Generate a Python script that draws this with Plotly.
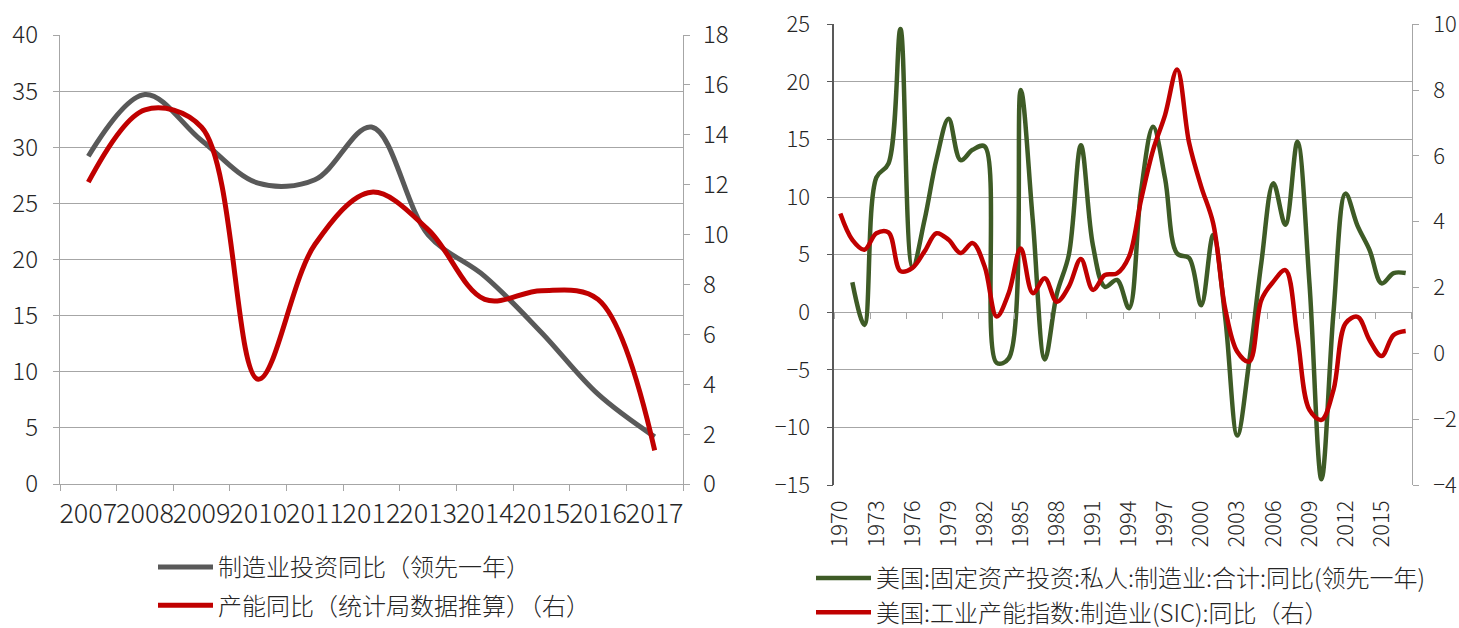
import plotly.graph_objects as go

# China: manufacturing investment (leads one year) vs. capacity growth
cn_years = ["2007", "2008", "2009", "2010", "2011", "2012",
            "2013", "2014", "2015", "2016", "2017"]
cn_mfg_invest_yoy = [29.2, 34.7, 30.6, 26.8, 27.1, 31.8, 22.2, 18.5, 13.5, 8.0, 4.2]
cn_capacity_yoy = [12.1, 15.0, 14.3, 4.2, 9.6, 11.7, 10.2, 7.4, 7.75, 7.4, 1.35]

# United States: private manufacturing fixed investment vs. capacity index
us_years = ["1970", "1971", "1972", "1973", "1974", "1975", "1976", "1977",
            "1978", "1979", "1980", "1981", "1982", "1983", "1984", "1985",
            "1986", "1987", "1988", "1989", "1990", "1991", "1992", "1993",
            "1994", "1995", "1996", "1997", "1998", "1999", "2000", "2001",
            "2002", "2003", "2004", "2005", "2006", "2007", "2008", "2009",
            "2010", "2011", "2012", "2013", "2014", "2015", "2016", "2017"]
us_fixed_invest_yoy = [None, 2.6, -1.1, 11.7, 12.9, 24.6, 3.9, 8.0,
                       13.3, 16.8, 13.2, 14.1, 14.4, -4.4, -4.0, 19.3,
                       8.0, -4.1, 1.6, 5.0, 14.5, 5.8, 2.2, 2.8,
                       0.35, 10.5, 16.1, 11.6, 5.1, 4.7, 0.6, 6.7,
                       -0.5, -10.7, -4.2, 4.3, 11.2, 7.6, 14.8, 2.5,
                       -14.5, 0.0, 10.3, 7.5, 5.4, 2.5, 3.4, 3.4]
us_capacity_yoy = [4.25, 3.45, 3.15, 3.65, 3.68, 2.5, 2.6, 3.1,
                   3.65, 3.45, 3.05, 3.35, 2.64, 1.12, 1.83, 3.19,
                   1.83, 2.28, 1.57, 2.03, 2.87, 1.93, 2.38, 2.43,
                   2.94, 4.66, 6.18, 7.25, 8.63, 6.39, 5.07, 3.95,
                   1.35, 0.05, -0.25, 1.62, 2.18, 2.53, 0.5, -1.72,
                   -2.02, -1.11, 0.91, 1.11, 0.4, -0.08, 0.56, 0.68]

cn_names = ["制造业投资同比（领先一年）", "产能同比（统计局数据推算）（右）"]
us_names = ["美国:固定资产投资:私人:制造业:合计:同比(领先一年)",
            "美国:工业产能指数:制造业(SIC):同比（右）"]

W, H = 1459, 628
FONT = "Noto Sans CJK SC"
TXT = "#262626"
GRID = "#A6A6A6"
GRAY = "#595959"
RED = "#C00000"
GREEN = "#3E5B26"


def fx(p):
    return p / W


def fy(p):
    return 1 - p / H


left_x = [fx(60), fx(683)]
left_y = [fy(484), fy(35)]
right_x = [fx(834.3), fx(1411.7)]
right_y = [fy(485), fy(24.3)]
us_left_range = [-15, 25]
zero_pos = right_y[0] + (0 - us_left_range[0]) / (us_left_range[1] - us_left_range[0]) * (right_y[1] - right_y[0])

fig = go.Figure()

fig.add_trace(go.Scatter(
    x=cn_years, y=cn_mfg_invest_yoy, name=cn_names[0], mode="lines",
    line=dict(color=GRAY, width=5, shape="spline", smoothing=1.0),
    xaxis="x", yaxis="y", legend="legend", legendgroup="cn1"))
fig.add_trace(go.Scatter(
    x=cn_years, y=cn_capacity_yoy, name=cn_names[1], mode="lines",
    line=dict(color=RED, width=5, shape="spline", smoothing=1.0),
    xaxis="x", yaxis="y2", legend="legend", legendgroup="cn2"))

fig.add_trace(go.Scatter(
    x=us_years, y=us_fixed_invest_yoy, name=us_names[0], mode="lines",
    line=dict(color=GREEN, width=4.5, shape="spline", smoothing=1.0),
    connectgaps=False, xaxis="x3", yaxis="y3", legend="legend2",
    legendgroup="us1"))
fig.add_trace(go.Scatter(
    x=us_years, y=us_capacity_yoy, name=us_names[1], mode="lines",
    line=dict(color=RED, width=4.5, shape="spline", smoothing=1.0),
    xaxis="x4", yaxis="y4", legend="legend2", legendgroup="us2"))

tick_font_l = dict(family=FONT, size=24, color=TXT, weight=300)
tick_font_lx = dict(family=FONT, size=27, color=TXT, weight=300)
tick_font_r = dict(family=FONT, size=22, color=TXT, weight=300)
legend_font = dict(family=FONT, size=24, color=TXT, weight=300)

fig.update_layout(
    width=W, height=H,
    margin=dict(l=0, r=0, t=0, b=0, autoexpand=False),
    paper_bgcolor="white", plot_bgcolor="white",
    font=dict(family=FONT, color=TXT),
    xaxis=dict(
        domain=left_x, anchor="y", type="category", automargin=False,
        categoryorder="array", categoryarray=cn_years,
        range=[-0.5, len(cn_years) - 0.5], tickangle=0,
        tickson="boundaries", ticks="outside", ticklen=6, tickcolor=GRID,
        showline=True, linecolor=GRID, linewidth=1.3,
        showgrid=False, zeroline=False, tickfont=tick_font_lx,
        ticklabelstandoff=5),
    yaxis=dict(
        domain=left_y, anchor="x", range=[0, 40], dtick=5, automargin=False,
        showgrid=True, gridcolor=GRID, gridwidth=1.3,
        showline=True, linecolor=GRID, linewidth=1.3,
        ticks="outside", ticklen=6, tickcolor=GRID, zeroline=False,
        tickfont=tick_font_l, ticklabelstandoff=10),
    yaxis2=dict(
        overlaying="y", side="right", anchor="x", range=[0, 18], dtick=2,
        automargin=False,
        showgrid=False, showline=True, linecolor=GRID, linewidth=1.3,
        ticks="outside", ticklen=6, tickcolor=GRID, zeroline=False,
        tickfont=tick_font_l, ticklabelstandoff=8),
    xaxis3=dict(
        domain=right_x, anchor="free", position=zero_pos, type="category",
        automargin=False,
        categoryorder="array", categoryarray=us_years,
        range=[-0.5, len(us_years) - 0.5], tickmode="linear", tick0=0, dtick=3,
        tickson="boundaries", ticks="outside", ticklen=6, tickcolor=GRID,
        tickwidth=1.3,
        showticklabels=False, showline=False, showgrid=False, zeroline=False),
    yaxis3=dict(
        domain=right_y, anchor="x3", range=us_left_range, dtick=5,
        automargin=False,
        showgrid=True, gridcolor=GRID, gridwidth=1.3,
        showline=True, linecolor=GRAY, linewidth=1.5,
        ticks="outside", ticklen=6, tickcolor=GRAY, zeroline=False,
        tickfont=tick_font_r, ticklabelstandoff=12),
    xaxis4=dict(
        overlaying="x3", anchor="y4", side="bottom", type="category",
        automargin=False,
        categoryorder="array", categoryarray=us_years,
        range=[-0.5, len(us_years) - 0.5], tickmode="linear", tick0=0, dtick=3,
        ticks="", showline=False, showgrid=False, zeroline=False,
        tickangle=-90, tickfont=tick_font_r, ticklabelstandoff=10),
    yaxis4=dict(
        overlaying="y3", side="right", anchor="x4", range=[-4, 10], dtick=2,
        automargin=False,
        showgrid=False, showline=True, linecolor=GRID, linewidth=1.3,
        ticks="outside", ticklen=6, tickcolor=GRID, zeroline=False,
        tickfont=tick_font_r, ticklabelstandoff=10),
    legend=dict(
        x=fx(153), y=fy(545), xanchor="left", yanchor="top",
        font=legend_font, bgcolor="rgba(0,0,0,0)",
        tracegroupgap=4, itemwidth=55),
    legend2=dict(
        x=fx(811), y=fy(556), xanchor="left", yanchor="top",
        font=legend_font, bgcolor="rgba(0,0,0,0)",
        tracegroupgap=0, itemwidth=55),
)

fig.write_html("out.html")
